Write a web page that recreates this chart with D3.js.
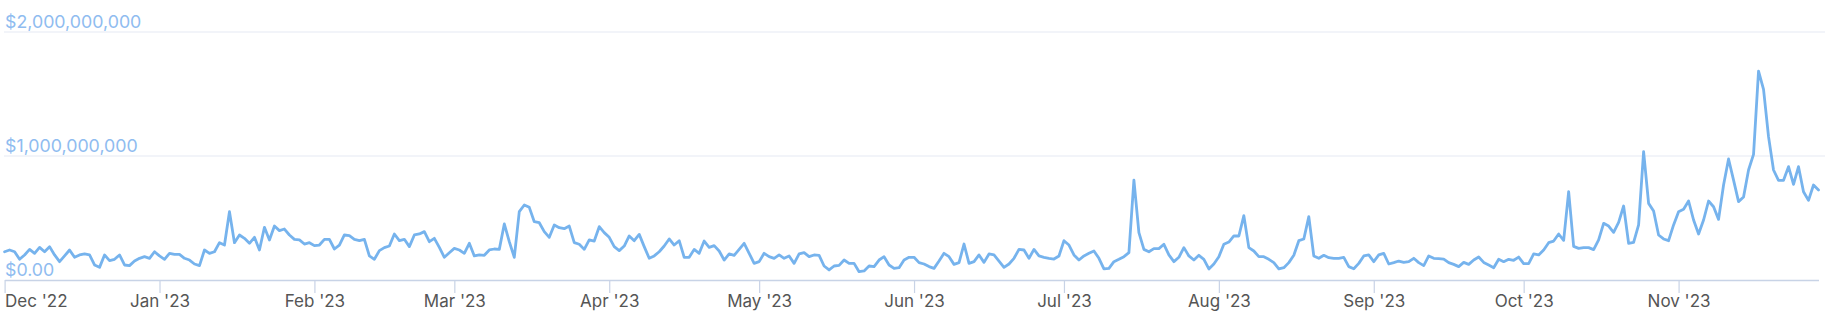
<!DOCTYPE html>
<html><head><meta charset="utf-8">
<script src="https://cdn.jsdelivr.net/npm/d3@7"></script>
<style>html,body{margin:0;padding:0;background:#fff;overflow:hidden}</style>
</head><body>
<svg id="chart" width="1825" height="325"></svg>
<script>
// Daily volume in millions of USD, starting 2022-12-01
const startDate = "2022-12-01";
const volDec = [228,242,228,167,202,247,215,263,228,269,202,148,194,242,183,202,210,202,121,102,202,156,167,202,121,116,153,175,188,175,228];
const volJan = [194,167,215,207,207,175,161,129,116,242,215,228,301,282,551,301,363,336,296,344,242,425,323,435,398,411,363,328,323,290,301];
const volFeb = [277,282,328,328,250,282,363,358,328,317,328,194,167,237,261,274,371,317,328,269,363,371,390,309,336,263,183,220];
const volMar = [255,242,215,296,194,202,199,242,250,247,452,309,183,551,605,586,470,462,390,344,444,422,414,435,301,288,247,323,314,430,382];
const volApr = [344,269,237,274,355,317,368,269,175,194,228,274,331,282,317,183,183,247,215,314,263,277,234,161,210,199,247,296,215,134];
const volMay = [148,215,188,175,202,175,194,134,210,220,188,202,199,113,81,113,118,161,134,134,67,73,113,108,161,188,121,94,99,161,183];
const volJun = [183,140,129,108,94,153,215,188,126,140,290,134,148,202,142,210,202,153,102,129,175,247,242,175,247,194,183,175,169,194];
const volJul = [317,282,202,161,194,215,234,175,89,94,148,167,188,220,806,382,247,228,253,253,288,202,148,183,261,194,161,199,167,89,129];
const volAug = [188,288,306,355,355,519,261,234,188,188,167,140,89,99,140,199,317,331,511,194,175,199,180,175,175,183,108,91,134,194,202];
const volSep = [148,202,215,129,140,153,142,148,175,140,116,194,175,172,169,140,126,108,142,126,161,185,142,121,99,167,148,167,159,185];
const volOct = [132,132,210,202,242,301,314,371,320,712,271,255,261,261,245,323,457,435,384,465,597,296,304,444,1035,618,556,363,331,317,444];
const volNov = [551,570,637,484,371,484,637,591,489,766,976,806,632,669,887,1013,1685,1538,1156,887,804,804,914,771,914,712,642,766,726];

const yTickValues = [0, 1e9, 2e9];
const yTickLabels = ["$0.00", "$1,000,000,000", "$2,000,000,000"];
const monthTickFormat = "%b '%y";

const W = 1825, H = 325;
const volumeMillions = [].concat(volDec, volJan, volFeb, volMar, volApr, volMay, volJun, volJul, volAug, volSep, volOct, volNov);
const t0 = d3.utcParse("%Y-%m-%d")(startDate);
const data = volumeMillions.map((v, i) => ({date: d3.utcDay.offset(t0, i), value: v * 1e6}));

const svg = d3.select("#chart");
const x = d3.scaleUtc().domain(d3.extent(data, d => d.date)).range([4.6, 1818.5]);
const y = d3.scaleLinear().domain([0, 2e9]).range([280, 32]);

// gridlines
svg.append("g").selectAll("line").data(yTickValues.filter(v => v > 0)).join("line")
  .attr("x1", 4).attr("x2", W).attr("y1", d => y(d)).attr("y2", d => y(d))
  .attr("stroke", "#eef1f7").attr("stroke-width", 1.5);

// x axis
const xAxis = d3.axisBottom(x).ticks(d3.utcMonth.every(1))
  .tickFormat(d3.utcFormat(monthTickFormat)).tickSize(13).tickSizeOuter(0);
const gx = svg.append("g").attr("transform", `translate(0,${y(0)})`).call(xAxis);
gx.select(".domain").attr("stroke", "#c8d3e6").attr("stroke-width", 1.5);
gx.selectAll(".tick line").attr("stroke", "#c8d3e6").attr("stroke-width", 1.2);
gx.selectAll(".tick text")
  .attr("y", 27).attr("dy", 0)
  .attr("fill", "#555").attr("font-family", "Inter, sans-serif").attr("font-size", 17)
  .attr("text-anchor", (d, i) => i === 0 ? "start" : "middle");
gx.selectAll(".tick").filter((d, i) => i === 0).select("text").attr("x", 0);

// line
const line = d3.line().x(d => x(d.date)).y(d => y(d.value));
svg.append("path").datum(data).attr("d", line)
  .attr("fill", "none").attr("stroke", "#76b3ed").attr("stroke-width", 2.8)
  .attr("stroke-linejoin", "round").attr("stroke-linecap", "round");

// y labels
svg.append("g").selectAll("text").data(yTickValues).join("text")
  .attr("x", 5).attr("y", d => y(d) - 4)
  .attr("fill", "#8fbcf0").attr("font-family", "Inter, sans-serif").attr("font-size", 17.8)
  .text((d, i) => yTickLabels[i]);
</script>
</body></html>
